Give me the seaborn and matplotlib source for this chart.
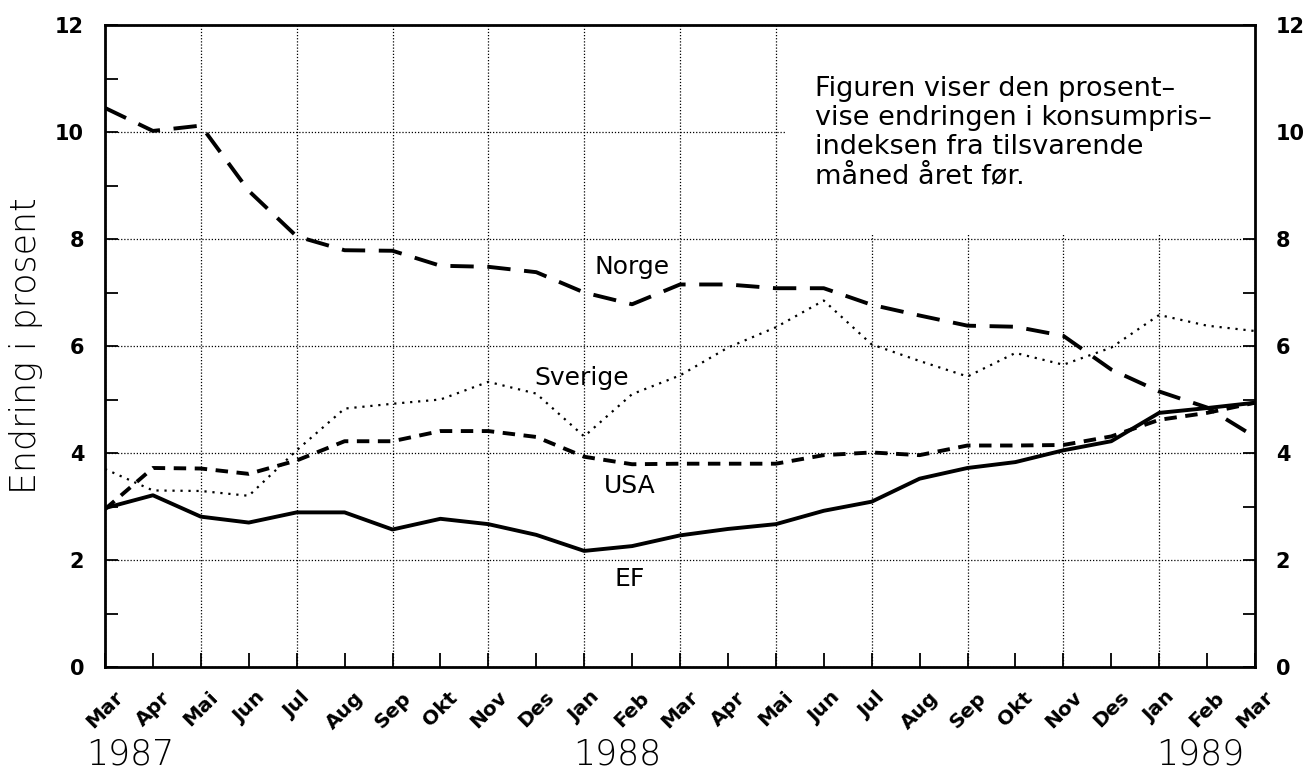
import matplotlib
matplotlib.use("Agg")
import matplotlib.pyplot as plt
import matplotlib.transforms as mtransforms
import seaborn as sns
import numpy as np

months = ["Mar", "Apr", "Mai", "Jun", "Jul", "Aug", "Sep", "Okt", "Nov", "Des", "Jan", "Feb",
          "Mar", "Apr", "Mai", "Jun", "Jul", "Aug", "Sep", "Okt", "Nov", "Des", "Jan", "Feb", "Mar"]
years = ["1987", "1988", "1989"]

norge = [10.45, 10.02, 10.12, 8.9, 8.05, 7.79, 7.78, 7.5, 7.48, 7.38, 7.0, 6.78,
         7.15, 7.15, 7.08, 7.08, 6.77, 6.57, 6.38, 6.36, 6.19, 5.56, 5.15, 4.85, 4.3]
sverige = [3.7, 3.3, 3.29, 3.2, 4.05, 4.83, 4.92, 5.0, 5.33, 5.11, 4.31, 5.1,
           5.45, 5.97, 6.35, 6.85, 6.03, 5.72, 5.43, 5.87, 5.65, 5.97, 6.58, 6.38, 6.28]
usa = [2.95, 3.72, 3.71, 3.61, 3.86, 4.22, 4.22, 4.41, 4.41, 4.3, 3.93, 3.79,
       3.8, 3.8, 3.8, 3.96, 4.01, 3.96, 4.14, 4.14, 4.15, 4.31, 4.62, 4.75, 4.94]
ef = [2.97, 3.21, 2.81, 2.7, 2.89, 2.89, 2.57, 2.77, 2.67, 2.47, 2.17, 2.26,
      2.46, 2.58, 2.67, 2.92, 3.09, 3.52, 3.72, 3.83, 4.05, 4.22, 4.75, 4.84, 4.94]

note = ("Figuren viser den prosent\u2013\nvise endringen i konsumpris\u2013\n"
        "indeksen fra tilsvarende\nmåned året før.")

sns.set_theme(style="white")
plt.rcParams['font.family'] = ['DejaVu Sans']
for k in ['text.color', 'axes.labelcolor', 'xtick.color', 'ytick.color', 'axes.edgecolor']:
    plt.rcParams[k] = 'black'

fig = plt.figure(figsize=(13.1, 7.72), dpi=100)
ax = fig.add_axes([105 / 1310, 1 - 667 / 772, (1255 - 105) / 1310, (667 - 25) / 772])

x = np.arange(len(months))

# grid lines every second month / every 2 units
ax.set_xticks(x[::2], minor=True)
ax.xaxis.remove_overlapping_locs = False
ax.grid(True, which='minor', axis='x', color='black', linestyle=(0, (1, 1.5)), linewidth=0.9)
ax.grid(True, which='major', axis='y', color='black', linestyle=(0, (1, 1.5)), linewidth=0.9)
ax.grid(False, which='major', axis='x')
ax.set_axisbelow(True)

styles = [
    (norge, (0, (6, 3.5)), 2.8),
    (usa, (0, (3.2, 2.2)), 2.8),
    (sverige, (0, (1, 2.6)), 1.6),
    (ef, None, 2.8),
]
for vals, ls, lw in styles:
    sns.lineplot(x=x, y=vals, ax=ax, color='black', linewidth=lw)
    line = ax.lines[-1]
    if ls is not None:
        line.set_linestyle(ls)
    line.set_zorder(3)

ax.set_xlim(0, len(months) - 1)
ax.set_ylim(0, 12)

# white panel behind the note (hides the grid there)
ax.add_patch(plt.Rectangle((14.2, 8.1), 24 - 14.2, 12 - 8.1, facecolor='white',
                           edgecolor='none', zorder=1))

ax.set_xticks(x)
ax.set_xticklabels(months, rotation=45, ha='center', va='top', fontsize=14.5,
                   fontweight='bold')
ax.set_yticks(np.arange(0, 13, 2))
ax.set_yticks(np.arange(1, 13, 2), minor=True)
ax.tick_params(axis='y', which='major', labelsize=15, direction='in', length=9, width=1.3,
               left=True, right=True, labelleft=True, labelright=True, pad=15)
ax.tick_params(axis='y', which='minor', direction='in', length=9, width=1.3, left=True, right=True)
ax.tick_params(axis='x', which='major', direction='in', length=10, width=1.3, bottom=True, pad=15)
ax.tick_params(axis='x', which='minor', length=0)
for lab in ax.get_yticklabels():
    lab.set_fontweight('bold')

for s in ax.spines.values():
    s.set_visible(True)
    s.set_color('black')
    s.set_linewidth(2)
    s.set_zorder(4)

ax.set_ylabel("Endring i prosent", fontsize=25, labelpad=9, fontweight='light')
ax.set_xlabel("")

# year labels
trans = mtransforms.blended_transform_factory(ax.transData, ax.transAxes)
for xi, yr in zip([0.52, 10.7, 22.85], years):
    ax.text(xi, -0.137, yr, transform=trans, ha='center', va='center', fontsize=25,
            fontweight='light')

# series labels
ax.text(11.0, 7.48, "Norge", fontsize=18, ha='center', va='center', zorder=5)
ax.text(9.94, 5.4, "Sverige", fontsize=18, ha='center', va='center', zorder=5)
ax.text(10.96, 3.38, "USA", fontsize=18, ha='center', va='center', zorder=5)
ax.text(10.96, 1.64, "EF", fontsize=18, ha='center', va='center', zorder=5)

ax.text(14.82, 11.05, note, fontsize=19.5, ha='left', va='top', linespacing=1.16, zorder=5)

fig.savefig("out.png", dpi=100)
